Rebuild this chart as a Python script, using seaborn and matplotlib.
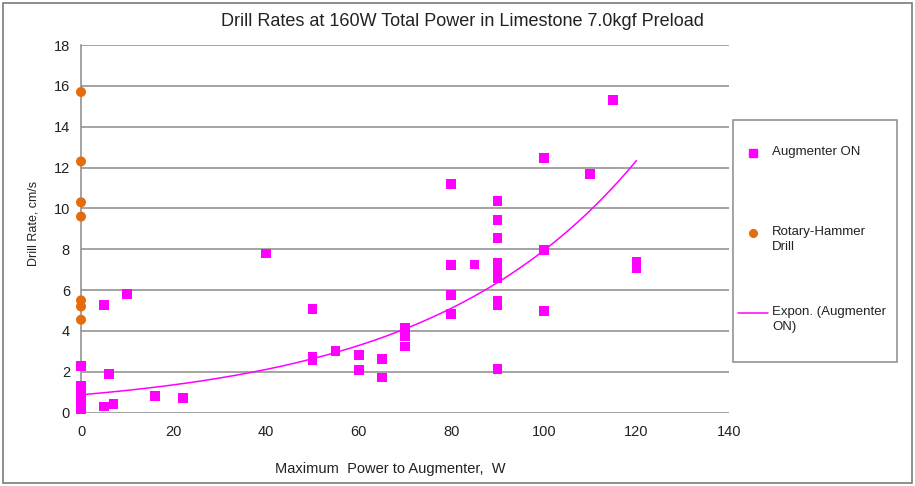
import numpy as np
import pandas as pd
import matplotlib
matplotlib.use("Agg")
import matplotlib.pyplot as plt
from matplotlib.lines import Line2D
from matplotlib.patches import Rectangle
import seaborn as sns

# ---- data ----
aug_x = [0, 0, 0, 0, 0, 0, 0,
         5, 5, 6, 7, 10, 16, 22,
         40, 50, 50, 50, 55, 60, 60, 65, 65,
         70, 70, 70, 70,
         80, 80, 80, 80, 85,
         90, 90, 90, 90, 90, 90, 90, 90, 90, 90,
         100, 100, 100, 110, 115, 120, 120]
aug_y = [2.3, 1.3, 1.1, 0.75, 0.55, 0.35, 0.15,
         5.26, 0.3, 1.9, 0.44, 5.8, 0.82, 0.72,
         7.8, 5.07, 2.75, 2.58, 3.02, 2.81, 2.08, 2.62, 1.72,
         4.14, 3.95, 3.76, 3.24,
         11.2, 7.22, 5.75, 4.82, 7.25,
         10.35, 9.42, 8.55, 7.35, 7.1, 6.85, 6.6, 5.5, 5.25, 2.15,
         12.47, 7.97, 4.98, 11.7, 15.3, 7.4, 7.05]
rot_x = [0, 0, 0, 0, 0, 0, 0]
rot_y = [15.7, 12.3, 10.3, 9.6, 5.5, 5.2, 4.55]

x_ticks = [0, 20, 40, 60, 80, 100, 120, 140]
y_ticks = [0, 2, 4, 6, 8, 10, 12, 14, 16, 18]

title = "Drill Rates at 160W Total Power in Limestone 7.0kgf Preload"
x_label = "Maximum  Power to Augmenter,  W"
y_label = "Drill Rate, cm/s"
legend_labels = ["Augmenter ON", "Rotary-Hammer\nDrill", "Expon. (Augmenter\nON)"]

MAGENTA = "#FF00FF"
ORANGE = "#E46C0A"
GRID = "#8a8a8a"

sns.set_style("white")
plt.rcParams["font.family"] = ["Liberation Sans", "DejaVu Sans"]

W, H = 915, 486
fig = plt.figure(figsize=(W / 100, H / 100), dpi=100)
ax = fig.add_axes([81 / W, 1 - 412.7 / H, (729 - 81) / W, (412.7 - 45) / H])

aug = pd.DataFrame({"x": aug_x, "y": aug_y})
rot = pd.DataFrame({"x": rot_x, "y": rot_y})

# exponential trendline (least squares on log y, like Excel)
b, ln_a = np.polyfit(aug["x"], np.log(aug["y"]), 1)
fit_x = np.linspace(min(aug_x), max(aug_x), 200)
fit = pd.DataFrame({"x": fit_x, "y": np.exp(ln_a) * np.exp(b * fit_x)})

sns.lineplot(data=fit, x="x", y="y", ax=ax, color=MAGENTA, linewidth=1.1, zorder=3)
sns.scatterplot(data=aug, x="x", y="y", ax=ax, marker="s", color=MAGENTA,
                s=48, edgecolor="none", zorder=4, clip_on=False)
sns.scatterplot(data=rot, x="x", y="y", ax=ax, marker="o", color=ORANGE,
                s=52, edgecolor="none", zorder=5, clip_on=False)

ax.set_xlim(0, 140)
ax.set_ylim(0, 18)
ax.set_xticks(x_ticks)
ax.set_yticks(y_ticks)
ax.yaxis.grid(True, color=GRID, linewidth=1.1)
ax.xaxis.grid(False)
ax.set_axisbelow(True)
for s in ["top", "right", "bottom"]:
    ax.spines[s].set_visible(False)
ax.spines["left"].set_color(GRID)
ax.spines["left"].set_linewidth(1.1)
ax.tick_params(axis="both", length=0, labelsize=10.5, colors="#222222")
ax.tick_params(axis="y", pad=8)
ax.tick_params(axis="x", pad=9)
ax.set_xlabel(x_label, fontsize=10.5, labelpad=13, color="#222222")
ax.xaxis.set_label_coords((390 - 81) / (729 - 81), -0.135)
ax.set_ylabel(y_label, fontsize=9, labelpad=12, color="#222222")
ax.yaxis.set_label_coords(-(81 - 39) / (729 - 81), (412.7 - 223) / (412.7 - 45))
ax.set_title("")

fig.text(462 / W, 1 - 22 / H, title, ha="center", va="center",
         fontsize=13, color="#222222")

# outer frame
fig.patches.append(Rectangle((3 / W, 3 / H), (912 - 3) / W, (483 - 3) / H,
                             transform=fig.transFigure, fill=False,
                             edgecolor="#7a7a7a", linewidth=1.2))

# legend box
fig.patches.append(Rectangle((733 / W, 1 - 362 / H), (897 - 733) / W, (362 - 120) / H,
                             transform=fig.transFigure, fill=False,
                             edgecolor="#8a8a8a", linewidth=1.1))
fig.lines.append(Line2D([753 / W], [1 - 153 / H], transform=fig.transFigure,
                        marker="s", color=MAGENTA, markersize=6, linestyle="none"))
fig.lines.append(Line2D([753 / W], [1 - 233 / H], transform=fig.transFigure,
                        marker="o", color=ORANGE, markersize=5.5, linestyle="none"))
fig.lines.append(Line2D([738 / W, 768 / W], [1 - 313 / H, 1 - 313 / H],
                        transform=fig.transFigure, color=MAGENTA, linewidth=1.1))
for lab, yc in zip(legend_labels, [153, 233, 313]):
    fig.text(772 / W, 1 - (yc - 7) / H, lab, ha="left", va="top", fontsize=9.5,
             color="#222222", linespacing=1.3)

fig.savefig("out.png", dpi=100)
